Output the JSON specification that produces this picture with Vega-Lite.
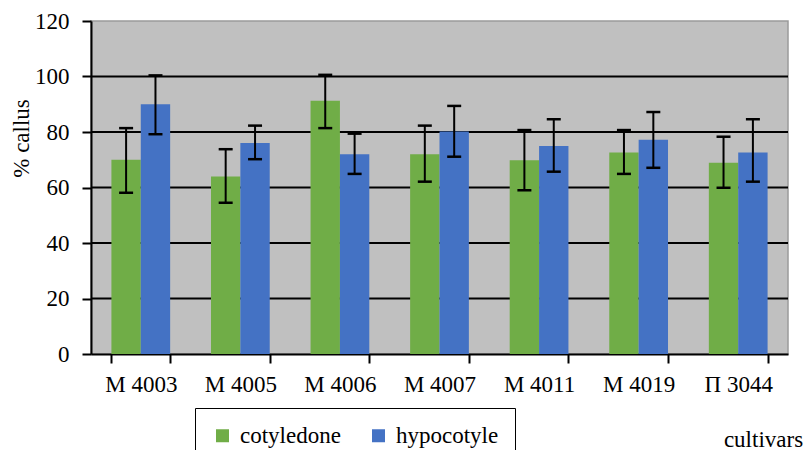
{
  "$schema": "https://vega.github.io/schema/vega-lite/v6.json",
  "width": 697,
  "height": 333,
  "autosize": {"type": "none"},
  "padding": {"left": 91, "top": 21, "right": 20, "bottom": 96},
  "background": "white",
  "config": {
    "font": "Liberation Serif",
    "view": {"fill": "#C0C0C0", "stroke": "#9a9a9a", "strokeWidth": 1.5}
  },
  "datasets": {
    "bars": [
      {"cultivar": "М 4003", "tissue": "cotyledone", "value": 70.0, "lo": 58.1, "hi": 81.4},
      {"cultivar": "М 4003", "tissue": "hypocotyle", "value": 90.0, "lo": 79.2, "hi": 100.4},
      {"cultivar": "М 4005", "tissue": "cotyledone", "value": 64.0, "lo": 54.5, "hi": 73.8},
      {"cultivar": "М 4005", "tissue": "hypocotyle", "value": 76.0, "lo": 70.2, "hi": 82.3},
      {"cultivar": "М 4006", "tissue": "cotyledone", "value": 91.3, "lo": 81.4, "hi": 100.6},
      {"cultivar": "М 4006", "tissue": "hypocotyle", "value": 72.0, "lo": 64.9, "hi": 79.4},
      {"cultivar": "М 4007", "tissue": "cotyledone", "value": 72.0, "lo": 62.1, "hi": 82.3},
      {"cultivar": "М 4007", "tissue": "hypocotyle", "value": 80.2, "lo": 71.1, "hi": 89.4},
      {"cultivar": "М 4011", "tissue": "cotyledone", "value": 69.8, "lo": 59.0, "hi": 80.7},
      {"cultivar": "М 4011", "tissue": "hypocotyle", "value": 75.0, "lo": 65.7, "hi": 84.6},
      {"cultivar": "М 4019", "tissue": "cotyledone", "value": 72.6, "lo": 64.9, "hi": 80.7},
      {"cultivar": "М 4019", "tissue": "hypocotyle", "value": 77.2, "lo": 67.1, "hi": 87.2},
      {"cultivar": "П 3044", "tissue": "cotyledone", "value": 68.9, "lo": 59.9, "hi": 78.3},
      {"cultivar": "П 3044", "tissue": "hypocotyle", "value": 72.6, "lo": 62.1, "hi": 84.6}
    ],
    "gridlines": [
      {"level": 20}, {"level": 40}, {"level": 60}, {"level": 80}, {"level": 100}
    ]
  },
  "layer": [
    {
      "data": {"name": "gridlines"},
      "mark": {"type": "rule", "color": "black", "strokeWidth": 1.8},
      "encoding": {
        "y": {
          "field": "level",
          "type": "quantitative",
          "scale": {"domain": [0, 120], "nice": false},
          "axis": {
            "title": "% callus",
            "titleFontSize": 23,
            "titleFontWeight": "normal",
            "titleColor": "black",
            "titleX": -58,
            "titleY": 117,
            "values": [0, 20, 40, 60, 80, 100, 120],
            "labelFontSize": 23,
            "labelColor": "black",
            "labelPadding": 13,
            "tickSize": 9,
            "tickColor": "black",
            "tickWidth": 2,
            "domainColor": "black",
            "domainWidth": 2,
            "grid": false
          }
        }
      }
    },
    {
      "data": {"name": "bars"},
      "encoding": {
        "x": {
          "field": "cultivar",
          "type": "nominal",
          "sort": null,
          "scale": {"paddingInner": 0.41, "paddingOuter": 0.205},
          "axis": {
            "title": "cultivars",
            "titleFontSize": 23,
            "titleFontWeight": "normal",
            "titleColor": "black",
            "titleX": 672,
            "titleY": 92,
            "titleBaseline": "alphabetic",
            "labelAngle": 0,
            "labelFontSize": 23,
            "labelColor": "black",
            "labelPadding": 10,
            "tickBand": "extent",
            "tickSize": 9,
            "tickColor": "black",
            "tickWidth": 2,
            "domainColor": "black",
            "domainWidth": 2,
            "grid": false
          }
        },
        "xOffset": {"field": "tissue", "type": "nominal", "scale": {"paddingInner": 0, "paddingOuter": 0}}
      },
      "layer": [
        {
          "mark": {"type": "bar"},
          "encoding": {
            "y": {"field": "value", "type": "quantitative"},
            "color": {
              "field": "tissue",
              "type": "nominal",
              "scale": {"domain": ["cotyledone", "hypocotyle"], "range": ["#70AD47", "#4472C4"]},
              "legend": {
                "title": null,
                "orient": "none",
                "legendX": 104,
                "legendY": 387,
                "direction": "horizontal",
                "symbolType": "square",
                "symbolSize": 169,
                "symbolStrokeWidth": 0,
                "symbolOpacity": 1,
                "labelFontSize": 23,
                "labelColor": "black",
                "labelOffset": 6,
                "columnPadding": 26,
                "padding": 16,
                "strokeColor": "black",
                "fillColor": "white"
              }
            }
          }
        },
        {
          "mark": {"type": "rule", "color": "black", "strokeWidth": 2},
          "encoding": {
            "y": {"field": "lo", "type": "quantitative"},
            "y2": {"field": "hi"}
          }
        },
        {
          "mark": {"type": "tick", "color": "black", "thickness": 2.5, "size": 14, "opacity": 1},
          "encoding": {"y": {"field": "lo", "type": "quantitative"}}
        },
        {
          "mark": {"type": "tick", "color": "black", "thickness": 2.5, "size": 14, "opacity": 1},
          "encoding": {"y": {"field": "hi", "type": "quantitative"}}
        }
      ]
    }
  ]
}
